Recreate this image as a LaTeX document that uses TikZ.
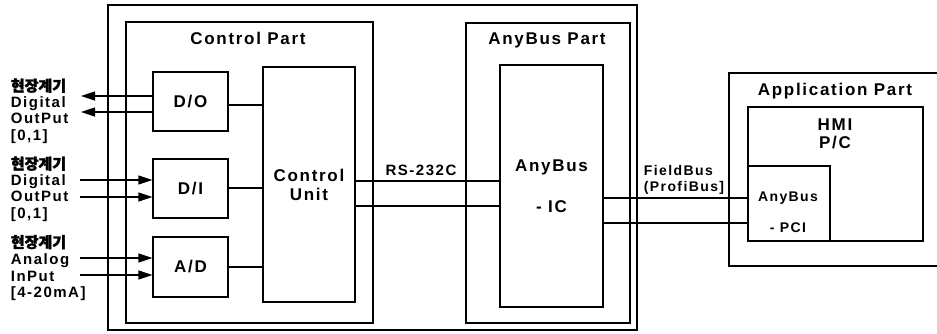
\documentclass[tikz,border=0pt]{standalone}
\usepackage{fontspec}
\setmainfont{Liberation Sans}[LetterSpace=10]
\newfontfamily\kr{Noto Sans CJK KR}[FakeBold=2]
\usetikzlibrary{arrows.meta}
\newcommand{\fsz}[2]{\fontsize{#1}{#2}\selectfont\bfseries}% bold text, size and line skip

\begin{document}
\begin{tikzpicture}[x=1pt,y=-1pt,line width=1.1pt,
  box/.style={draw, inner sep=0pt, align=center},
  sig/.style={-{Triangle[length=14pt,width=9pt]}, line width=1.2pt}]
  \clip (0,0) rectangle (937,333);
  % frames
  \node[box, minimum width=529, minimum height=325] (sys) at (372.5,167.5) {};
  \node[box, minimum width=247, minimum height=301] (ctl) at (249.5,172.5) {};
  \node[box, minimum width=164, minimum height=300] (abp) at (548,173) {};
  \node[box, minimum width=216, minimum height=193] (app) at (837,169.5) {};
  \node[font=\fsz{17}{20}] (ctlt) at (248,38) {Control Part};
  \node[font=\fsz{17}{20}] (abpt) at (547,40) {AnyBus Part};
  \node[font=\fsz{17}{20}] (appt) at (835,91) {Application Part};
  % control part
  \node[box, minimum width=75, minimum height=59, font=\fsz{17}{20}] (do) at (190.5,101.5) {D/O};
  \node[box, minimum width=75, minimum height=59, font=\fsz{17}{20}] (di) at (190.5,188.5) {D/I};
  \node[box, minimum width=75, minimum height=60, font=\fsz{17}{20}] (ad) at (190.5,267) {A/D};
  \node[box, minimum width=92, minimum height=235, font=\fsz{17}{19}] (cu) at (309,184.5) {Control\\Unit};
  \draw (do.east |- 0,105) -- (cu.west |- 0,105);
  \draw (di.east |- 0,188) -- (cu.west |- 0,188);
  \draw (ad.east |- 0,267) -- (cu.west |- 0,267);
  % field signals
  \node[anchor=west, align=left, font=\fsz{15}{16.3}] (lo) at (7,111)
    {{\kr 현장계기}\\Digital\\OutPut\\{[0,1]}};
  \node[anchor=west, align=left, font=\fsz{15}{16.3}] (li) at (7,189)
    {{\kr 현장계기}\\Digital\\OutPut\\{[0,1]}};
  \node[anchor=west, align=left, font=\fsz{15}{16.7}] (la) at (7,268)
    {{\kr 현장계기}\\Analog\\InPut\\{[4-20mA]}};
  \foreach \y in {96,112} \draw[sig] (do.west |- 0,\y) -- (81,\y);
  \foreach \y in {180,197} \draw[sig] (80,\y) -- (di.west |- 0,\y);
  \foreach \y in {258,275} \draw[sig] (80,\y) -- (ad.west |- 0,\y);
  % anybus part
  \node[box, minimum width=103, minimum height=242, font=\fsz{17}{41}] (ic) at (551.5,186) {AnyBus\\- IC};
  \foreach \y in {181,206} \draw (cu.east |- 0,\y) -- (ic.west |- 0,\y);
  \node[font=\fsz{15}{16}] (rs) at (421,170) {RS-232C};
  % application part
  \node[box, minimum width=175, minimum height=134] (hmi) at (835.5,174) {};
  \node[align=center, font=\fsz{17}{18}] (hmit) at (835,134) {HMI\\P/C};
  \node[box, minimum width=82, minimum height=75] (pci) at (789,203.5) {};
  \node[align=center, font=\fsz{14}{31}] (pcit) at (788,212.5) {AnyBus\\- PCI};
  \foreach \y in {198,223} \draw (ic.east |- 0,\y) -- (pci.west |- 0,\y);
  \node[anchor=west, align=left, font=\fsz{14}{15.5}] (fb) at (640,180) {FieldBus\\(ProfiBus]};
\end{tikzpicture}
\end{document}
